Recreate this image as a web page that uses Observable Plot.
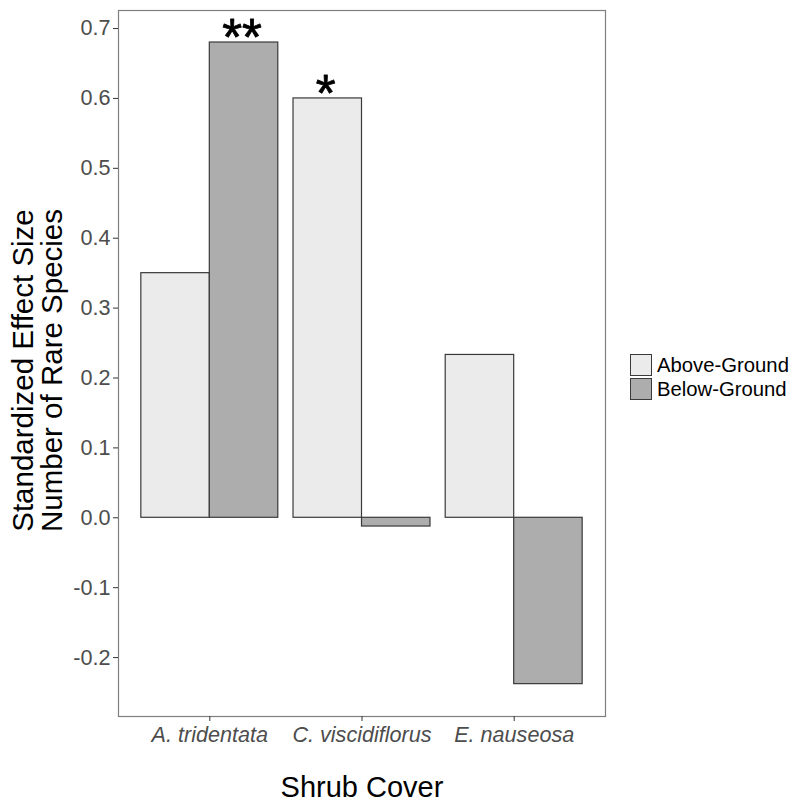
<!DOCTYPE html>
<html>
<head>
<meta charset="utf-8">
<script src="https://cdn.jsdelivr.net/npm/d3@7"></script>
<script src="https://cdn.jsdelivr.net/npm/@observablehq/plot@0.6"></script>
<style>
  html, body { margin: 0; padding: 0; background: white; }
  #wrap { position: relative; width: 799px; height: 806px; font-family: "Liberation Sans", Arial, sans-serif; }
  #legend { position: absolute; left: 630px; top: 353px; }
  .item { display: flex; align-items: center; height: 24px; }
  .key { width: 20px; height: 20px; border: 1.2px solid #3a3a3a; box-sizing: content-box; margin-right: 5px; }
  .lab { font-size: 20.3px; color: #000; line-height: 20px; }
</style>
</head>
<body>
<div id="wrap"></div>
<script>
const categories = ["A. tridentata", "C. viscidiflorus", "E. nauseosa"];
const groups = ["Above-Ground", "Below-Ground"];
const aboveValues = [0.35, 0.60, 0.233];
const belowValues = [0.680, -0.0125, -0.238];
const groupColors = ["#ebebeb", "#adadad"];
const yTicks = [-0.2, -0.1, 0.0, 0.1, 0.2, 0.3, 0.4, 0.5, 0.6, 0.7];
const sigCategory = ["A. tridentata", "C. viscidiflorus"];
const sigGroup = ["Below-Ground", "Above-Ground"];
const sigLabel = ["**", "*"];

const dodge = 0.45;
const rows = [];
categories.forEach((c, i) => {
  rows.push({category: c, group: groups[0], value: aboveValues[i], pos: i + 1, gi: 0});
  rows.push({category: c, group: groups[1], value: belowValues[i], pos: i + 1, gi: 1});
});
const sig = sigCategory.map((c, k) => ({
  pos: categories.indexOf(c) + 1,
  gi: groups.indexOf(sigGroup[k]),
  value: rows.find(r => r.category === c && r.group === sigGroup[k]).value,
  label: sigLabel[k]
}));
const left = d => d.pos - dodge + d.gi * dodge;

const chart = Plot.plot({
  width: 799,
  height: 806,
  marginLeft: 118,
  marginRight: 194,
  marginTop: 10,
  marginBottom: 90,
  style: {fontFamily: "'Liberation Sans', Arial, sans-serif", background: "white"},
  x: {type: "linear", domain: [0.4, 3.6]},
  y: {domain: [-0.2843, 0.7258]},
  color: {domain: groups, range: groupColors},
  marks: [
    Plot.rectY(rows, {
      x1: left,
      x2: d => left(d) + dodge,
      y1: 0,
      y2: "value",
      fill: "group",
      stroke: "#3a3a3a",
      strokeWidth: 1.2
    }),
    Plot.text(sig, {
      x: d => left(d) + dodge / 2,
      y: "value",
      text: "label",
      fontSize: 51,
      fill: "black",
      stroke: "black",
      strokeWidth: 0.8,
      dx: -2,
      dy: -4
    }),
    Plot.frame({stroke: "#7f7f7f", strokeWidth: 1.2}),
    Plot.axisX({
      ticks: [1, 2, 3],
      tickFormat: i => categories[i - 1],
      fontSize: 21.6,
      fontStyle: "italic",
      tickSize: 5,
      tickPadding: 5,
      stroke: "#333",
      fill: "#4d4d4d",
      label: null
    }),
    Plot.axisY({
      ticks: yTicks,
      tickFormat: d => d.toFixed(1),
      fontSize: 21.6,
      tickSize: 5,
      tickPadding: 3,
      stroke: "#333",
      fill: "#4d4d4d",
      label: null
    }),
    Plot.text(["Shrub Cover"], {
      frameAnchor: "bottom",
      lineAnchor: "bottom",
      dy: 80,
      fontSize: 29,
      fill: "black"
    }),
    Plot.text(["Standardized Effect Size\nNumber of Rare Species"], {
      frameAnchor: "left",
      textAnchor: "middle",
      lineAnchor: "middle",
      rotate: -90,
      dx: -80.5,
      dy: 7,
      lineHeight: 0.98,
      fontSize: 29.5,
      fill: "black"
    })
  ]
});

const wrap = document.getElementById("wrap");
wrap.appendChild(chart);

const legend = document.createElement("div");
legend.id = "legend";
groups.forEach((g, i) => {
  const item = document.createElement("div");
  item.className = "item";
  const key = document.createElement("div");
  key.className = "key";
  key.style.background = groupColors[i];
  const lab = document.createElement("span");
  lab.className = "lab";
  lab.textContent = g;
  item.appendChild(key);
  item.appendChild(lab);
  legend.appendChild(item);
});
wrap.appendChild(legend);
</script>
</body>
</html>
